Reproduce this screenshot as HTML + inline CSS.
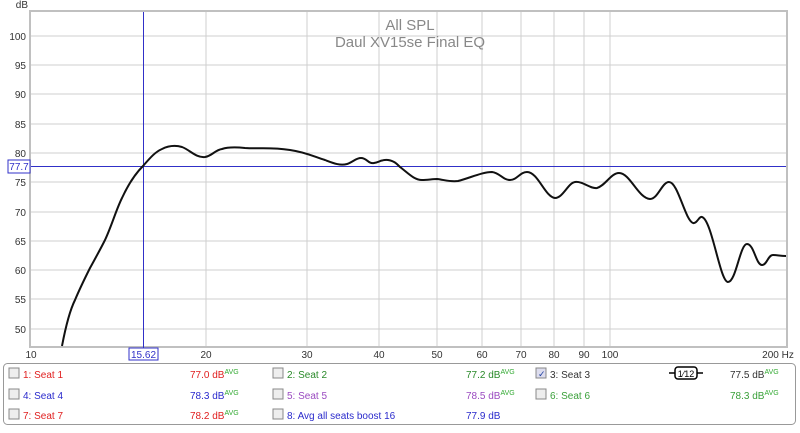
<!DOCTYPE html>
<html><head><meta charset="utf-8"><style>
body{margin:0;width:800px;height:428px;background:#fff;overflow:hidden;font-family:"Liberation Sans",sans-serif}
</style></head><body>
<svg width="800" height="428" xmlns="http://www.w3.org/2000/svg" font-family="Liberation Sans, sans-serif">
<rect x="0" y="0" width="800" height="428" fill="#fff"/>
<rect x="30" y="11" width="757" height="336" fill="#fff" stroke="#c0c0c0" stroke-width="2"/>
<g stroke="#cfcfcf" stroke-width="1">
<line x1="31" y1="36" x2="786" y2="36"/><line x1="31" y1="65" x2="786" y2="65"/><line x1="31" y1="94" x2="786" y2="94"/><line x1="31" y1="124" x2="786" y2="124"/><line x1="31" y1="153" x2="786" y2="153"/><line x1="31" y1="182" x2="786" y2="182"/><line x1="31" y1="212" x2="786" y2="212"/><line x1="31" y1="241" x2="786" y2="241"/><line x1="31" y1="270" x2="786" y2="270"/><line x1="31" y1="299" x2="786" y2="299"/><line x1="31" y1="329" x2="786" y2="329"/>
<line x1="206" y1="12" x2="206" y2="346"/><line x1="307" y1="12" x2="307" y2="346"/><line x1="379" y1="12" x2="379" y2="346"/><line x1="437" y1="12" x2="437" y2="346"/><line x1="482" y1="12" x2="482" y2="346"/><line x1="521" y1="12" x2="521" y2="346"/><line x1="554" y1="12" x2="554" y2="346"/><line x1="584" y1="12" x2="584" y2="346"/><line x1="610" y1="12" x2="610" y2="346"/>
</g>
<g font-size="10" fill="#333" text-anchor="end">
<text x="28" y="8">dB</text>
<text x="26" y="40">100</text><text x="26" y="69">95</text><text x="26" y="98">90</text><text x="26" y="128">85</text><text x="26" y="157">80</text><text x="26" y="186">75</text><text x="26" y="216">70</text><text x="26" y="245">65</text><text x="26" y="274">60</text><text x="26" y="303">55</text><text x="26" y="333">50</text>
</g>
<g font-size="10" fill="#333" text-anchor="middle">
<text x="31" y="358">10</text><text x="206" y="358">20</text><text x="307" y="358">30</text><text x="379" y="358">40</text><text x="437" y="358">50</text><text x="482" y="358">60</text><text x="521" y="358">70</text><text x="554" y="358">80</text><text x="584" y="358">90</text><text x="610" y="358">100</text><text x="778" y="358">200 Hz</text>
</g>
<text x="410" y="30" font-size="15" fill="#888" text-anchor="middle">All SPL</text>
<text x="410" y="47" font-size="15" fill="#888" text-anchor="middle">Daul XV15se Final EQ</text>
<line x1="143.5" y1="12" x2="143.5" y2="348" stroke="#3030c8"/>
<line x1="31" y1="166.5" x2="786" y2="166.5" stroke="#3030c8"/>
<rect x="8" y="160" width="22" height="13" fill="#fff" stroke="#3030c8"/>
<text x="19" y="170" font-size="10" fill="#3030c8" text-anchor="middle">77.7</text>
<rect x="129" y="348" width="29" height="12" fill="#fff" stroke="#3030c8"/>
<text x="143.5" y="358" font-size="10" fill="#3030c8" text-anchor="middle">15.62</text>
<path fill="none" stroke="#111" stroke-width="2" stroke-linejoin="round" d="M62,346 C66,325 70,310 75,300 C80,288 85,278 90,268 C96,257 100,250 105,240 C112,225 116,210 122,198 C128,185 135,174 143,166 C150,158 155,152 162,149 C168,146 175,145 182,147 C190,150 196,158 205,157 C212,156 215,150 222,149 C228,147 235,147 245,148 C260,149 270,147 290,150 C305,152 315,157 325,160 C333,163 340,166 347,164 C353,162 356,158 361,158 C367,158 368,164 374,163 C380,162 382,159 388,160 C394,161 396,163 400,167 C408,173 414,180 422,180 C428,180 432,179 437,179 C445,180 450,182 458,181 C470,178 482,172 492,172 C500,173 503,180 510,180 C517,180 520,172 527,172 C538,172 545,197 555,198 C563,198 568,183 575,182 C583,181 590,189 597,188 C605,186 611,173 619,173 C630,173 638,198 650,199 C658,199 662,182 669,182 C678,182 685,220 693,223 C697,224 699,216 702,217 C712,220 720,282 728,282 C736,282 740,244 747,244 C754,244 756,265 762,265 C767,265 768,255 773,255 C778,255 780,256 786,256"/>
<rect x="3.5" y="363.5" width="792" height="61" rx="4" fill="#fff" stroke="#999"/>
<g font-size="10">
<rect x="9" y="368" width="10" height="10" fill="#eee" stroke="#888"/><text x="23" y="378" fill="#e02020">1: Seat 1</text>
<text x="190" y="378" fill="#e02020">77.0 dB<tspan font-size="7" dy="-4" fill="#3a3">AVG</tspan></text>
<rect x="273" y="368" width="10" height="10" fill="#eee" stroke="#888"/><text x="287" y="378" fill="#2a8a2a">2: Seat 2</text>
<text x="466" y="378" fill="#2a8a2a">77.2 dB<tspan font-size="7" dy="-4" fill="#3a3">AVG</tspan></text>
<rect x="536" y="368" width="10" height="10" fill="#dde" stroke="#888"/><text x="538" y="377" fill="#2040a0" font-size="9">✓</text><text x="550" y="378" fill="#333">3: Seat 3</text>
<rect x="675" y="367" width="22" height="12" rx="3" fill="#fff" stroke="#000" stroke-width="1.5"/><line x1="669" y1="373" x2="675" y2="373" stroke="#000" stroke-width="1.5"/><line x1="697" y1="373" x2="703" y2="373" stroke="#000" stroke-width="1.5"/><text x="686" y="377" font-size="9" text-anchor="middle" fill="#000">1⁄12</text>
<text x="730" y="378" fill="#333">77.5 dB<tspan font-size="7" dy="-4" fill="#3a3">AVG</tspan></text>
<rect x="9" y="389" width="10" height="10" fill="#eee" stroke="#888"/><text x="23" y="399" fill="#2a2acc">4: Seat 4</text>
<text x="190" y="399" fill="#2a2acc">78.3 dB<tspan font-size="7" dy="-4" fill="#3a3">AVG</tspan></text>
<rect x="273" y="389" width="10" height="10" fill="#eee" stroke="#888"/><text x="287" y="399" fill="#9a4ac0">5: Seat 5</text>
<text x="466" y="399" fill="#9a4ac0">78.5 dB<tspan font-size="7" dy="-4" fill="#3a3">AVG</tspan></text>
<rect x="536" y="389" width="10" height="10" fill="#eee" stroke="#888"/><text x="550" y="399" fill="#3aa03a">6: Seat 6</text>
<text x="730" y="399" fill="#3aa03a">78.3 dB<tspan font-size="7" dy="-4" fill="#3a3">AVG</tspan></text>
<rect x="9" y="409" width="10" height="10" fill="#eee" stroke="#888"/><text x="23" y="419" fill="#e02020">7: Seat 7</text>
<text x="190" y="419" fill="#e02020">78.2 dB<tspan font-size="7" dy="-4" fill="#3a3">AVG</tspan></text>
<rect x="273" y="409" width="10" height="10" fill="#eee" stroke="#888"/><text x="287" y="419" fill="#2a2acc">8: Avg all seats boost 16</text>
<text x="466" y="419" fill="#2a2acc">77.9 dB</text>
</g>
</svg>
</body></html>
